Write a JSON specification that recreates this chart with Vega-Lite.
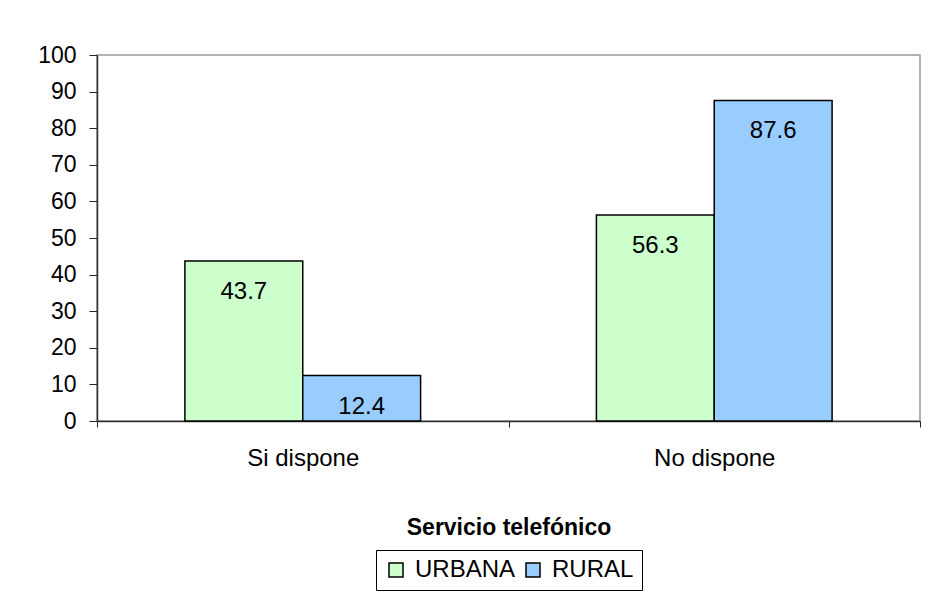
{
  "$schema": "https://vega.github.io/schema/vega-lite/v6.json",
  "width": 823,
  "height": 366,
  "autosize": {"type": "none"},
  "padding": {"left": 97, "top": 55, "right": 6, "bottom": 173},
  "background": "white",
  "title": {"text": "(%)", "fontSize": 24, "fontWeight": "bold", "font": "Liberation Sans", "baseline": "bottom", "offset": 47, "anchor": "middle", "color": "black"},
  "data": {"values": [
    {"servicio": "Si dispone", "area": "URBANA", "pct": 43.7},
    {"servicio": "Si dispone", "area": "RURAL", "pct": 12.4},
    {"servicio": "No dispone", "area": "URBANA", "pct": 56.3},
    {"servicio": "No dispone", "area": "RURAL", "pct": 87.6}
  ]},
  "config": {
    "font": "Liberation Sans",
    "view": {"stroke": "#999999", "strokeWidth": 1.5}
  },
  "encoding": {
    "x": {"field": "servicio", "type": "nominal", "sort": ["Si dispone", "No dispone"],
      "scale": {"paddingInner": 0, "paddingOuter": 0},
      "axis": {"title": "Servicio telefónico", "labelAngle": 0, "tickBand": "extent", "tickSize": 6, "tickColor": "#222", "domainColor": "#333", "domainWidth": 1.5, "labelFontSize": 24, "labelColor": "black", "labelPadding": 19, "titleFontSize": 23, "titleFontWeight": "bold", "titleColor": "black", "titlePadding": 46}},
    "xOffset": {"field": "area", "type": "nominal", "sort": ["URBANA", "RURAL"], "scale": {"paddingInner": 0, "paddingOuter": 0.746}},
    "y": {"field": "pct", "type": "quantitative", "scale": {"domain": [0, 100]},
      "axis": {"title": null, "values": [0,10,20,30,40,50,60,70,80,90,100], "grid": false, "tickSize": 8, "tickColor": "#222", "domainColor": "#333", "domainWidth": 1.5, "labelFontSize": 23, "labelColor": "black", "labelPadding": 13}}
  },
  "layer": [
    {"mark": {"type": "bar", "stroke": "black", "strokeWidth": 1.5},
     "encoding": {"color": {"field": "area", "type": "nominal", "sort": ["URBANA", "RURAL"],
       "scale": {"domain": ["URBANA", "RURAL"], "range": ["#CCFFCC", "#99CCFF"]},
       "legend": {"title": null, "orient": "none", "legendX": 279, "legendY": 495, "direction": "horizontal", "strokeColor": "black", "padding": 8, "symbolType": "square", "symbolSize": 196, "symbolStrokeColor": "black", "symbolStrokeWidth": 1.5, "labelFontSize": 24, "labelColor": "black", "columnPadding": 5, "labelOffset": 7}}}},
    {"mark": {"type": "text", "baseline": "middle", "dy": 31, "fontSize": 24, "color": "black"},
     "encoding": {"text": {"field": "pct", "type": "quantitative", "format": ".1f"}}}
  ]
}
